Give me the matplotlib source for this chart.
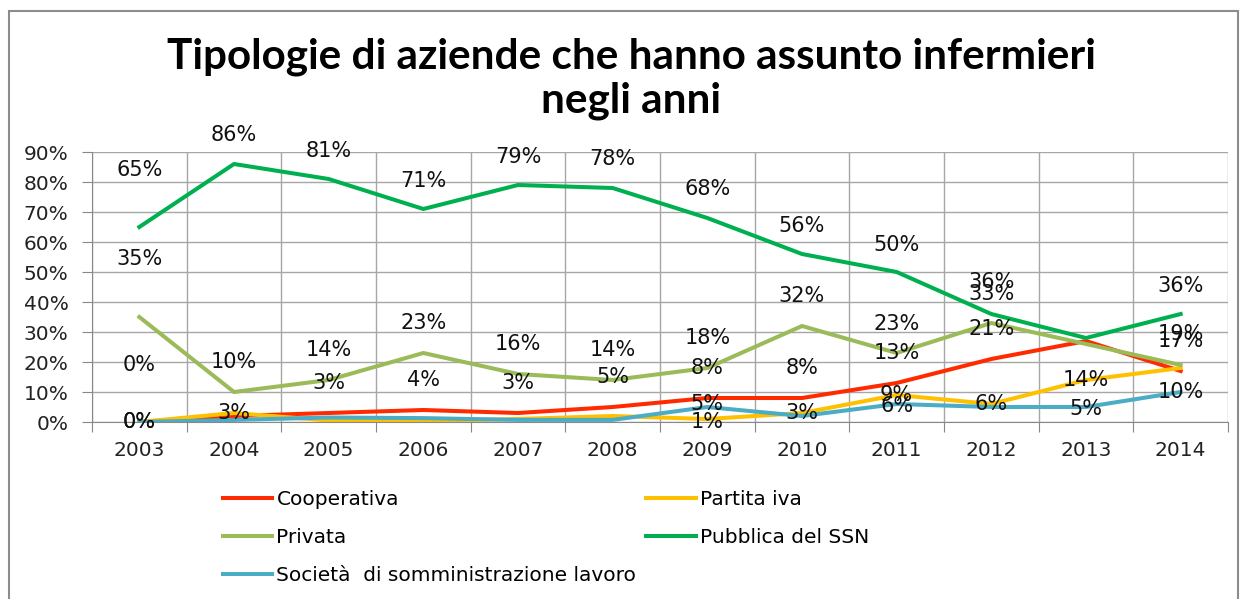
import matplotlib
matplotlib.use("Agg")
from matplotlib import pyplot as plt
from matplotlib.patches import Rectangle

years = ["2003", "2004", "2005", "2006", "2007", "2008",
         "2009", "2010", "2011", "2012", "2013", "2014"]

cooperativa = [0, 2, 3, 4, 3, 5, 8, 8, 13, 21, 27, 17]
partita_iva = [0, 3, 0.5, 0.3, 1, 2, 1, 3, 9, 6, 14, 18]
privata = [35, 10, 14, 23, 16, 14, 18, 32, 23, 33, 26, 19]
pubblica = [65, 86, 81, 71, 79, 78, 68, 56, 50, 36, 28, 36]
societa = [0, 0.7, 1.5, 1.3, 0.7, 0.7, 5, 2, 6, 5, 5, 10]

names = ["Cooperativa", "Partita iva", "Privata", "Pubblica del SSN",
         "Società  di somministrazione lavoro"]
colors = ["#FF2A00", "#FFC000", "#9BBB59", "#00B050", "#4BACC6"]

# label offsets in pixels above the point, None = no label shown
label_offsets = [
    [57, None, 30, 30, 30, 30, 30, 30, 30, 30, None, 30],
    [0, 0, None, None, None, None, -3, 0, 0, 0, 0, None],
    [58, 30, 30, 30, 30, 30, 30, 30, 29, 29, None, 31],
    [57, 29, 28, 28, 28, 29, 29, 28, 27, 32, None, 28],
    [0, None, None, None, None, None, 3, None, -2, None, -2, 0],
]

series = [cooperativa, partita_iva, privata, pubblica, societa]

fig = plt.figure(figsize=(12.43, 5.99), dpi=100)
ax = fig.add_axes([92 / 1243, 1 - 422 / 599, (1228 - 92) / 1243, (422 - 152) / 599])

x = list(range(len(years)))
handles = []
for vals, name, col in zip(series, names, colors):
    h, = ax.plot(x, vals, color=col, lw=2.9, label=name, solid_joinstyle="round")
    handles.append(h)

for vals, offs in zip(series, label_offsets):
    for i, (v, o) in enumerate(zip(vals, offs)):
        if o is None:
            continue
        ax.annotate(f"{v:.0f}%", xy=(i, v), xytext=(0, o * 0.72),
                    textcoords="offset points", ha="center", va="center",
                    fontsize=15, color="#111111", annotation_clip=False)

ax.set_xlim(-0.5, len(years) - 0.5)
ax.set_ylim(0, 90)
ax.set_yticks(range(0, 91, 10))
ax.set_yticklabels([f"{t}%" for t in range(0, 91, 10)])
ax.set_xticks([i - 0.5 for i in range(len(years) + 1)], minor=False)
ax.set_xticklabels([])
ax.set_xticks(x, minor=True)
ax.set_xticklabels(years, minor=True)
ax.tick_params(axis="x", which="major", length=7, color="#888888", direction="out")
ax.tick_params(axis="x", which="minor", length=0, labelsize=14.5, pad=14,
               labelcolor="#222222")
ax.tick_params(axis="y", length=7, color="#888888", labelsize=14.5,
               labelcolor="#222222", pad=10)
ax.grid(True, which="major", color="#A6A6A6", lw=1)
ax.set_axisbelow(True)
for s in ["top", "right"]:
    ax.spines[s].set_visible(False)
for s in ["left", "bottom"]:
    ax.spines[s].set_color("#888888")

fig.text(631 / 1243, 1 - 57 / 599, "Tipologie di aziende che hanno assunto infermieri",
         ha="center", va="center", fontsize=30.4, fontweight="bold", family="Lato")
fig.text(631 / 1243, 1 - 101 / 599, "negli anni",
         ha="center", va="center", fontsize=30.4, fontweight="bold", family="Lato")

order = [0, 2, 4, 1, 3]
fig.legend([handles[i] for i in order], [names[i] for i in order],
           ncol=2, loc="upper left", bbox_to_anchor=(205 / 1243, 1 - 472 / 599),
           frameon=False, fontsize=14.5, handlelength=2.45, handletextpad=0.2,
           labelspacing=0.95, columnspacing=0.5)

fig.patches.append(Rectangle((9 / 1243, -0.02), (1238 - 9) / 1243, 1 - 11 / 599 + 0.02,
                             transform=fig.transFigure, fill=False,
                             edgecolor="#8C8C8C", lw=1.5))

fig.savefig("out.png", dpi=100)
